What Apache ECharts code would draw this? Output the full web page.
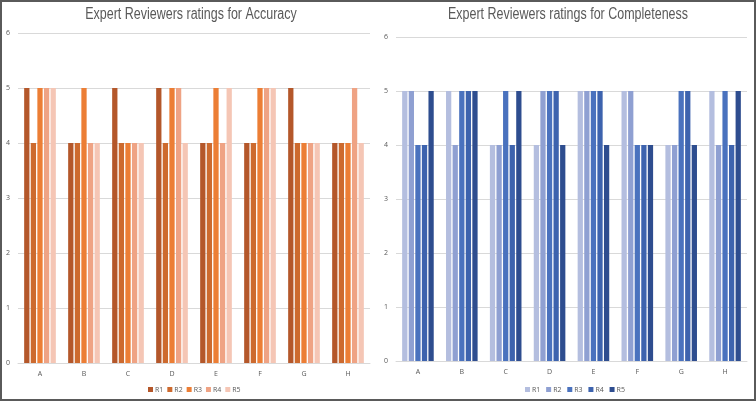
<!DOCTYPE html>
<html>
<head>
<meta charset="utf-8">
<script src="https://cdn.jsdelivr.net/npm/echarts@6/dist/echarts.min.js"></script>
<style>
  html, body { margin: 0; padding: 0; background: #fff; }
  #chart { position: absolute; left: 0; top: 0; width: 756px; height: 401px; }
  #frame { position: absolute; left: 0; top: 0; width: 756px; height: 401px;
    box-sizing: border-box; border: 2px solid #5a5a5a; pointer-events: none; }
</style>
</head>
<body>
<div id="chart"></div>
<div id="frame"></div>
<script>
const categories = ["A", "B", "C", "D", "E", "F", "G", "H"];
const reviewers = ["R1", "R2", "R3", "R4", "R5"];
const yTicks = [0, 1, 2, 3, 4, 5, 6];
const titles = ["Expert Reviewers ratings for Accuracy", "Expert Reviewers ratings for Completeness"];

// accuracy ratings per reviewer (A..H)
const accR1 = [5, 4, 5, 5, 4, 4, 5, 4];
const accR2 = [4, 4, 4, 4, 4, 4, 4, 4];
const accR3 = [5, 5, 4, 5, 5, 5, 4, 4];
const accR4 = [5, 4, 4, 5, 4, 5, 4, 5];
const accR5 = [5, 4, 4, 4, 5, 5, 4, 4];

// completeness ratings per reviewer (A..H)
const comR1 = [5, 5, 4, 4, 5, 5, 4, 5];
const comR2 = [5, 4, 4, 5, 5, 5, 4, 4];
const comR3 = [4, 5, 5, 5, 5, 4, 5, 5];
const comR4 = [4, 5, 4, 5, 5, 4, 5, 4];
const comR5 = [5, 5, 5, 4, 4, 4, 4, 5];

const accColors = ["#B4572A", "#CD6A2E", "#EC7E35", "#EFA384", "#F5C6B5"];
const comColors = ["#B4BEDF", "#8FA0D2", "#4A72BE", "#3D63AE", "#2E4D8F"];

const textColor = "#595959";
const gridColor = "#D9D9D9";
const titleFont = "'Liberation Sans', Arial, sans-serif";
const smallFont = "'Open Sans', 'DejaVu Sans', sans-serif";

const accData = [accR1, accR2, accR3, accR4, accR5];
const comData = [comR1, comR2, comR3, comR4, comR5];

function makeAxes(gridIndex) {
  const xAxis = {
    type: "category",
    gridIndex: gridIndex,
    data: categories,
    axisTick: { show: false },
    axisLine: { lineStyle: { color: gridColor, width: 1 } },
    axisLabel: { color: textColor, fontSize: 7, fontFamily: smallFont, margin: 7 }
  };
  const yAxis = {
    type: "value",
    gridIndex: gridIndex,
    min: yTicks[0],
    max: yTicks[yTicks.length - 1],
    interval: 1,
    axisLine: { show: false },
    axisTick: { show: false },
    axisLabel: { color: textColor, fontSize: 7, fontFamily: smallFont, margin: 8 },
    splitLine: { lineStyle: { color: gridColor, width: 1 } }
  };
  return { xAxis, yAxis };
}

let series = [];
reviewers.forEach(function (name, i) {
  series.push({
    name: name,
    type: "bar",
    xAxisIndex: 0,
    yAxisIndex: 0,
    barGap: "25%",
    barCategoryGap: "28%",
    itemStyle: { color: accColors[i] },
    data: accData[i]
  });
});
reviewers.forEach(function (name, i) {
  series.push({
    name: name + " ",
    type: "bar",
    xAxisIndex: 1,
    yAxisIndex: 1,
    barGap: "25%",
    barCategoryGap: "28%",
    itemStyle: { color: comColors[i] },
    data: comData[i]
  });
});

const a0 = makeAxes(0);
const a1 = makeAxes(1);

const legendBase = {
  top: 386,
  padding: 0,
  itemWidth: 5,
  itemHeight: 5,
  itemGap: 4,
  icon: "rect",
  textStyle: { color: textColor, fontSize: 7, fontFamily: smallFont, padding: [0, 0, 0, -3] }
};

// titles drawn as text, squeezed a little to get the narrow look of the original
function titleText(text, cx) {
  return {
    type: "text",
    x: cx,
    y: 15,
    scaleX: 0.78,
    style: {
      text: text,
      fill: textColor,
      font: "16px " + titleFont,
      textAlign: "center",
      textVerticalAlign: "middle"
    }
  };
}

const option = {
  animation: false,
  graphic: [titleText(titles[0], 191), titleText(titles[1], 568)],
  legend: [
    Object.assign({}, legendBase, { left: 148, data: reviewers }),
    Object.assign({}, legendBase, { left: 525, data: reviewers.map(function (r) { return r + " "; }) })
  ],
  grid: [
    { left: 18, right: 386, top: 33, bottom: 38 },
    { left: 396, right: 9, top: 37, bottom: 40 }
  ],
  xAxis: [a0.xAxis, a1.xAxis],
  yAxis: [a0.yAxis, a1.yAxis],
  series: series
};

const myChart = echarts.init(document.getElementById("chart"), null, { renderer: "canvas" });
myChart.setOption(option);
</script>
</body>
</html>
